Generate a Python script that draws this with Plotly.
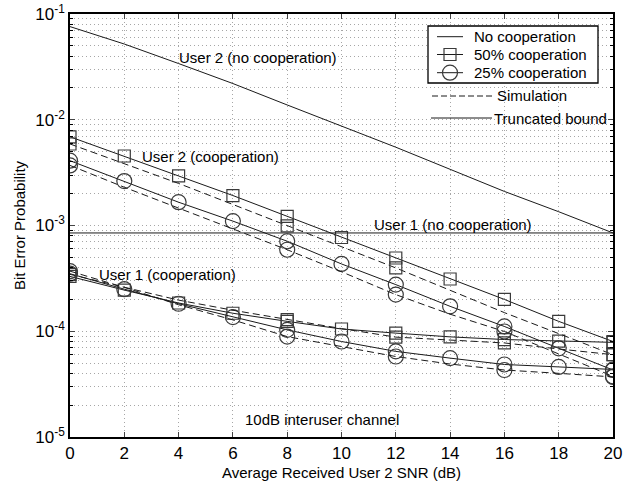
import plotly.graph_objects as go

# ---------------- data ----------------
snr = [0, 2, 4, 6, 8, 10, 12, 14, 16, 18, 20]

user2_nocoop = [0.076, 0.052, 0.034, 0.022, 0.0138, 0.0087, 0.0055, 0.0034, 0.0021, 0.00135, 0.00085]
user1_nocoop = [8.5e-4, 8.5e-4, 8.5e-4, 8.5e-4, 8.5e-4, 8.5e-4, 8.5e-4, 8.5e-4, 8.5e-4, 8.5e-4, 8.5e-4]

u2_50_bound = [6.9e-3, 4.54e-3, 2.94e-3, 1.92e-3, 1.22e-3, 7.7e-4, 4.93e-4, 3.12e-4, 2.0e-4, 1.24e-4, 8.0e-5]
u2_50_sim = [5.9e-3, 3.85e-3, 2.5e-3, 1.58e-3, 9.9e-4, 6.3e-4, 3.97e-4, 2.45e-4, 1.5e-4, 9.5e-5, 6.0e-5]
u2_25_bound = [4.1e-3, 2.63e-3, 1.66e-3, 1.1e-3, 7.1e-4, 4.33e-4, 2.76e-4, 1.72e-4, 1.11e-4, 6.9e-5, 4.3e-5]
u2_25_sim = [3.7e-3, 2.3e-3, 1.46e-3, 9.3e-4, 5.9e-4, 3.65e-4, 2.22e-4, 1.45e-4, 9.95e-5, 6.1e-5, 3.75e-5]

u1_50_bound = [3.3e-4, 2.45e-4, 1.85e-4, 1.48e-4, 1.24e-4, 1.05e-4, 9.6e-5, 8.85e-5, 8.35e-5, 8.05e-5, 7.85e-5]
u1_50_sim = [3.45e-4, 2.6e-4, 1.97e-4, 1.58e-4, 1.29e-4, 1.06e-4, 8.8e-5, 8.2e-5, 7.75e-5, 6.8e-5, 6.0e-5]
u1_25_bound = [3.5e-4, 2.5e-4, 1.82e-4, 1.36e-4, 1.03e-4, 8.0e-5, 6.45e-5, 5.57e-5, 4.85e-5, 4.6e-5, 4.35e-5]
u1_25_sim = [3.7e-4, 2.6e-4, 1.78e-4, 1.28e-4, 8.9e-5, 7.2e-5, 5.77e-5, 4.9e-5, 4.3e-5, 4.0e-5, 3.7e-5]

# SNR values at which simulation markers are shown
sim_marker_snr_u2_50 = [0, 8, 12, 20]
sim_marker_snr = [0, 8, 12, 16, 20]

y_tick_vals = [1e-5, 1e-4, 1e-3, 1e-2, 1e-1]
y_tick_text = ["10<sup>-5</sup>", "10<sup>-4</sup>", "10<sup>-3</sup>", "10<sup>-2</sup>", "10<sup>-1</sup>"]
x_tick_vals = [0, 2, 4, 6, 8, 10, 12, 14, 16, 18, 20]

legend_names = ["No cooperation", "50% cooperation", "25% cooperation"]
key_names = ["Simulation", "Truncated bound"]

# ---------------- styles ----------------
FONT = "Liberation Sans, Arial, Helvetica, sans-serif"
LINE_C = "#1a1a1a"
MARK_C = "#3a3a3a"
DASH = "7px,4px"
SQ = dict(symbol="square-open", size=12, color=MARK_C, line=dict(width=1.2, color=MARK_C))
CI = dict(symbol="circle-open", size=15, color=MARK_C, line=dict(width=1.2, color=MARK_C))

fig = go.Figure()

fig.add_trace(go.Scatter(x=snr, y=user2_nocoop, mode="lines", name=legend_names[0],
                         line=dict(color=LINE_C, width=1)))
fig.add_trace(go.Scatter(x=snr, y=u2_50_bound, mode="lines+markers", name=legend_names[1],
                         line=dict(color=LINE_C, width=1), marker=SQ))
fig.add_trace(go.Scatter(x=snr, y=u2_25_bound, mode="lines+markers", name=legend_names[2],
                         line=dict(color=LINE_C, width=1), marker=CI))
fig.add_trace(go.Scatter(x=snr, y=user1_nocoop, mode="lines",
                         line=dict(color=LINE_C, width=1)))
fig.add_trace(go.Scatter(x=snr, y=u1_50_bound, mode="lines+markers",
                         line=dict(color=LINE_C, width=1), marker=SQ))
fig.add_trace(go.Scatter(x=snr, y=u1_25_bound, mode="lines+markers",
                         line=dict(color=LINE_C, width=1), marker=CI))


def add_sim(values, marker, marker_snr):
    fig.add_trace(go.Scatter(x=snr, y=values, mode="lines",
                             line=dict(color=LINE_C, width=1, dash=DASH)))
    xs = [s for s in snr if s in marker_snr]
    ys = [v for s, v in zip(snr, values) if s in marker_snr]
    fig.add_trace(go.Scatter(x=xs, y=ys, mode="markers", marker=marker))


add_sim(u2_50_sim, SQ, sim_marker_snr_u2_50)
add_sim(u2_25_sim, CI, sim_marker_snr)
add_sim(u1_50_sim, SQ, sim_marker_snr)
add_sim(u1_25_sim, CI, sim_marker_snr)

minor_vals = [m * 10 ** e for e in range(-5, -1) for m in range(2, 10)]

grid_c = "#a6a6a6"
GD = "1px,3px"
fig.update_xaxes(range=[0, 20], tickvals=x_tick_vals, ticks="inside", ticklen=5,
                 showline=True, linecolor="black", linewidth=1.5, mirror="ticks",
                 showgrid=True, gridcolor=grid_c, griddash=GD, gridwidth=1,
                 zeroline=False, automargin=False,
                 tickfont=dict(size=17, family=FONT, color="black"),
                 title=dict(text="Average Received User 2 SNR (dB)", standoff=14,
                            font=dict(size=15, family=FONT, color="black")))
fig.update_yaxes(type="log", range=[-5, -1], tickvals=y_tick_vals, ticktext=y_tick_text,
                 ticks="inside", ticklen=5,
                 showline=True, linecolor="black", linewidth=1.5, mirror="ticks",
                 showgrid=True, gridcolor=grid_c, griddash=GD, gridwidth=1,
                 minor=dict(tickvals=minor_vals, ticks="inside", ticklen=3, tickcolor="black",
                            showgrid=True, gridcolor=grid_c, griddash=GD, gridwidth=1),
                 zeroline=False, automargin=False,
                 tickfont=dict(size=17, family=FONT, color="black"),
                 title=dict(text="Bit Error Probability", standoff=6,
                            font=dict(size=15, family=FONT, color="black")))

L, R, T, B = 70, 27, 14, 44
W, H = 640, 481
pw, ph = W - L - R, H - T - B


def px(x):
    return (x - L) / pw


def py(y):
    return (H - B - y) / ph


fig.update_layout(
    width=W, height=H,
    margin=dict(l=L, r=R, t=T, b=B, pad=0),
    paper_bgcolor="white", plot_bgcolor="white",
    font=dict(family=FONT, size=15, color="black"),
    showlegend=False,
)

ann_font = dict(size=15, family=FONT, color="black")
annotations = [
    dict(x=6.92, y=-1.416, text="User 2 (no cooperation)"),
    dict(x=5.16, y=-2.343, text="User 2 (cooperation)"),
    dict(x=14.1, y=-2.995, text="User 1 (no cooperation)"),
    dict(x=3.6, y=-3.468, text="User 1 (cooperation)"),
    dict(x=9.27, y=-4.839, text="10dB interuser channel"),
]
for a in annotations:
    fig.add_annotation(x=a["x"], y=a["y"], text=a["text"], showarrow=False,
                       xref="x", yref="y", font=ann_font, xanchor="center", yanchor="middle")

# ---- legend box (key) ----
fig.add_shape(type="rect", xref="paper", yref="paper", x0=px(428), x1=px(598),
              y0=py(83), y1=py(26), fillcolor="white", line=dict(color="black", width=1.3),
              layer="above")
entry_y = [36.7, 54.5, 72.7]
for yy in entry_y:
    fig.add_shape(type="line", xref="paper", yref="paper", x0=px(437), x1=px(463),
                  y0=py(yy), y1=py(yy), line=dict(color=LINE_C, width=1), layer="above")
fig.add_shape(type="rect", xref="paper", yref="paper", xsizemode="pixel", ysizemode="pixel",
              xanchor=px(450), yanchor=py(entry_y[1]), x0=-6, x1=6, y0=-6, y1=6,
              line=dict(color=MARK_C, width=1.2), layer="above")
fig.add_shape(type="circle", xref="paper", yref="paper", xsizemode="pixel", ysizemode="pixel",
              xanchor=px(450), yanchor=py(entry_y[2]), x0=-7.5, x1=7.5, y0=-7.5, y1=7.5,
              line=dict(color=MARK_C, width=1.2), layer="above")
for name, yy in zip(legend_names, entry_y):
    fig.add_annotation(x=px(472), y=py(yy), xref="paper", yref="paper", text=name,
                       showarrow=False, xanchor="left", yanchor="middle", font=ann_font)

# Simulation / Truncated bound key
fig.add_shape(type="line", xref="paper", yref="paper", x0=px(432), x1=px(493),
              y0=py(96), y1=py(96), line=dict(color=LINE_C, width=1, dash="6px,3px"))
fig.add_annotation(x=px(495), y=py(96), xref="paper", yref="paper", text=key_names[0],
                   showarrow=False, xanchor="left", yanchor="middle", font=ann_font)
fig.add_shape(type="line", xref="paper", yref="paper", x0=px(431), x1=px(492),
              y0=py(118), y1=py(118), line=dict(color=LINE_C, width=1))
fig.add_annotation(x=px(492), y=py(118), xref="paper", yref="paper", text=key_names[1],
                   showarrow=False, xanchor="left", yanchor="middle", font=ann_font)

fig.write_html("out.html", config={"displayModeBar": False},
               post_script="document.body.style.margin='0px';")
